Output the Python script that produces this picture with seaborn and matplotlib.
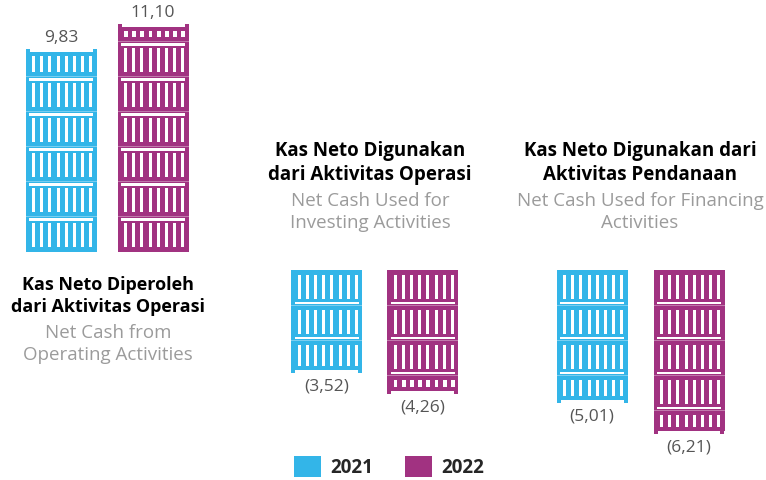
import numpy as np
import pandas as pd
import matplotlib
matplotlib.use("Agg")
import matplotlib.pyplot as plt
from matplotlib.patches import Rectangle, Patch
import seaborn as sns

# --- data -------------------------------------------------------------
years = ["2021", "2022"]
operating = [9.83, 11.10]
investing = [-3.52, -4.26]
financing = [-5.01, -6.21]

titles = [
    "Kas Neto Diperoleh\ndari Aktivitas Operasi",
    "Kas Neto Digunakan\ndari Aktivitas Operasi",
    "Kas Neto Digunakan dari\nAktivitas Pendanaan",
]
subtitles = [
    "Net Cash from\nOperating Activities",
    "Net Cash Used for\nInvesting Activities",
    "Net Cash Used for Financing\nActivities",
]

colors = {"2021": "#33B5E8", "2022": "#A13281"}

# --- figure -----------------------------------------------------------
sns.set_theme(style="white")
plt.rcParams["font.family"] = ["Open Sans", "DejaVu Sans"]

W, H = 766, 480
fig = plt.figure(figsize=(W / 100, H / 100), dpi=100)
fig.patch.set_facecolor("white")


def fx(px):
    return px / W


def fy(py):
    return 1 - py / H


def fmt(v):
    s = f"{abs(v):.2f}".replace(".", ",")
    return s if v >= 0 else f"({s})"


# panel layout (pixel geometry of each group)
panels = [
    dict(vals=operating, left=15, spacing=92, top=6, bottom=252, scale=20.3),
    dict(vals=investing, left=278.5, spacing=96, top=270, bottom=470, scale=28.5),
    dict(vals=financing, left=543.5, spacing=97, top=270, bottom=470, scale=26.0),
]

BAR_PX = 71
PERIOD = 35


def decorate(ax, patch, spacing, scale, color):
    x0 = patch.get_x()
    h = patch.get_height()
    sgn = 1 if h >= 0 else -1
    L = abs(h) * scale

    def X(o):
        return x0 + o / spacing

    def Y(d):
        return sgn * d / scale

    def rect(o0, o1, d0, d1, fc, alpha=1.0, z=3):
        y0, y1 = sorted([Y(d0), Y(d1)])
        ax.add_patch(Rectangle((X(o0), y0), (o1 - o0) / spacing, y1 - y0,
                               facecolor=fc, edgecolor="none", alpha=alpha, zorder=z))

    # small ears at the free end of the bar
    rect(0, 4, L - 1, L + 3, color)
    rect(BAR_PX - 4, BAR_PX, L - 1, L + 3, color)

    n = int(np.ceil(L / PERIOD))
    slot_offsets = [6.5 + i * 8.2 for i in range(8)]
    for k in range(n):
        s = k * PERIOD
        d0 = s + 5
        d1 = min(s + 29, L - 4)
        if d1 - d0 > 1.5:
            sw = 3.0 if d1 - d0 > 10 else 3.8
            for o in slot_offsets:
                rect(o, o + sw, d0, d1, "white")
        if s + 34 < L - 3:
            rect(3.5, BAR_PX - 3.5, s + 31.5, s + 34, "white")
            rect(0, BAR_PX, s + 35, s + 36, "white", alpha=0.35)


for i, p in enumerate(panels):
    ax = fig.add_axes([fx(p["left"]), fy(p["bottom"]),
                       fx(2 * p["spacing"]), (p["bottom"] - p["top"]) / H])
    df = pd.DataFrame({"year": years, "value": p["vals"]})
    sns.barplot(data=df, x="year", y="value", hue="year", palette=colors,
                width=BAR_PX / p["spacing"], saturation=1, linewidth=0,
                legend=False, ax=ax)
    ax.set_xlim(-0.5, 1.5)
    if p["vals"][0] >= 0:
        ax.set_ylim(0, (p["bottom"] - p["top"]) / p["scale"])
    else:
        ax.set_ylim(-(p["bottom"] - p["top"]) / p["scale"], 0)
    ax.axis("off")

    for patch, yr in zip(ax.patches, years):
        decorate(ax, patch, p["spacing"], p["scale"], colors[yr])

    for j, v in enumerate(p["vals"]):
        off = (14 if v >= 0 else 16) / p["scale"]
        ax.text(j, v + (off if v >= 0 else -off), fmt(v), ha="center", va="center",
                fontsize=12.5, color="#555555", clip_on=False)

# titles and subtitles
title_pos = [(108, 296, 344, 13.0), (370, 163, 212, 13.5), (640, 163, 212, 13.5)]
for (cx, ty, sy, fs), t, st in zip(title_pos, titles, subtitles):
    fig.text(fx(cx), fy(ty), t, ha="center", va="center", fontsize=fs,
             fontweight="bold", color="black", linespacing=1.3)
    fig.text(fx(cx), fy(sy), st, ha="center", va="center", fontsize=13.5,
             color="#9B9B9B", linespacing=1.3)

# legend
handles = [Patch(facecolor=colors[y], edgecolor="none", label=y) for y in years]
fig.legend(handles=handles, loc="center", bbox_to_anchor=(fx(389), fy(467)), ncol=2,
           frameon=False, prop={"weight": "bold", "size": 13.5},
           handlelength=1.45, handleheight=1.3, handletextpad=0.5, columnspacing=1.7)

fig.savefig("out.png", dpi=100, facecolor="white")
